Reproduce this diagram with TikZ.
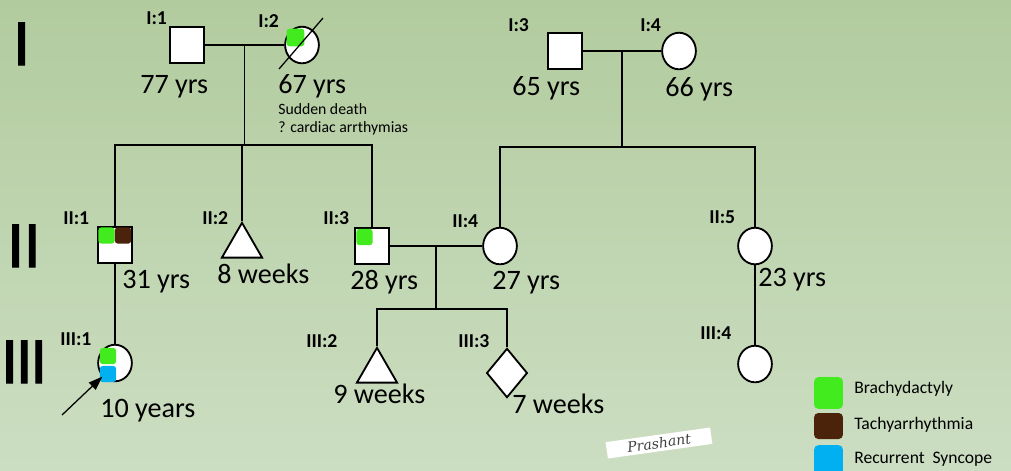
\documentclass[tikz,border=0pt]{standalone}
\usepackage{fontspec}
\setmainfont{Carlito}
\newfontfamily\signfont{DejaVu Serif}
\newfontfamily\genfont[FakeBold=1.5]{Carlito}
\usetikzlibrary{positioning,calc}
\usetikzlibrary{shapes.geometric,arrows.meta}
\definecolor{brachy}{RGB}{66,235,30}
\definecolor{tachy}{RGB}{75,35,10}
\definecolor{syncope}{RGB}{0,176,240}
\definecolor{bgtop}{RGB}{178,203,158}
\definecolor{bgmid}{RGB}{218,231,209}
\definecolor{bgbot}{RGB}{204,222,194}

\tikzset{
  male/.style={draw, line width=1.3pt, fill=white, minimum width=24pt, minimum height=26pt, inner sep=0pt},
  female/.style={male, ellipse},
  unknown/.style={draw, line width=1.3pt, fill=white, regular polygon, regular polygon sides=3, minimum size=33pt, inner sep=0pt},
  sexless/.style={draw, line width=1.3pt, fill=white, diamond, minimum width=29pt, minimum height=35pt, inner sep=0pt},
  trait/.style={rounded corners=2pt, minimum size=11.5pt, inner sep=0pt},
  key/.style={rounded corners=3pt, minimum width=20.5pt, inner sep=0pt},
  pid/.style={font=\fontsize{14}{16}\selectfont\bfseries, anchor=base west, inner sep=0pt},
  age/.style={font=\fontsize{20}{24}\selectfont, anchor=base west, inner sep=0pt},
  note/.style={font=\fontsize{11.2}{13}\selectfont, anchor=base west, inner sep=0pt},
  keytext/.style={font=\fontsize{12.5}{14}\selectfont, anchor=base west, inner sep=0pt},
  gen/.style={font=\genfont\fontsize{47}{50}\selectfont, anchor=base west, inner sep=0pt},
  line/.style={line width=0.9pt},
}

\begin{document}
\begin{tikzpicture}[x=0.025cm,y=-0.025cm]
  \fill[top color=bgtop, middle color=bgmid, bottom color=bgbot] (0,0) rectangle (1011,470);
  \useasboundingbox (0,0) rectangle (1011,470);

  % generations
  \node[gen] (g1) at (13,65) {I};
  \node[gen] (g2) at (7,267) {II};
  \node[gen] (g3) at (1,383) {I\kern-1.5pt I\kern-1.5pt I};

  % generation I
  \node[male] (i1) at (187,45) {};
  \node[female] (i2) at (302,45) {};
  \node[male] (i3) at (565,51) {};
  \node[female] (i4) at (679,51) {};

  % generation II
  \node[male] (ii1) at (115,245) {};
  \node[unknown] (ii2) at (242,246) {};
  \node[male] (ii3) at (372,246) {};
  \node[female] (ii4) at (500,246) {};
  \node[female] (ii5) at (755,246) {};

  % generation III
  \node[female] (iii1) at (115,363) {};
  \node[unknown] (iii2) at (377,371) {};
  \node[sexless] (iii3) at (507,373) {};
  \node[female] (iii4) at (755,364) {};

  % matings and sibships
  \draw[line] (i1.east) -- (i2.west);
  \coordinate (c1) at ($(i1.east)!0.5!(i2.west)$);
  \coordinate (s1) at ($(c1)+(0,100)$);
  \draw[line] (c1) -- (s1);
  \draw[line] (ii1.north) |- (s1) -| (ii3.north);
  \draw[line] (ii2.corner 1) -- (ii2.corner 1 |- s1);

  \draw[line] (i3.east) -- (i4.west);
  \coordinate (c2) at ($(i3.east)!0.5!(i4.west)$);
  \coordinate (s2) at ($(c2)+(0,96)$);
  \draw[line] (c2) -- (s2);
  \draw[line] (ii4.north) |- (s2) -| (ii5.north);

  \draw[line] (ii3.east) -- (ii4.west);
  \coordinate (c3) at ($(ii3.east)!0.5!(ii4.west)$);
  \coordinate (s3) at ($(c3)+(0,63)$);
  \draw[line] (c3) -- (s3);
  \draw[line] (iii2.corner 1) |- (s3) -| (iii3.north);

  \draw[line] (ii1.south) -- (iii1.north);
  \draw[line] (ii5.south) -- (iii4.north);

  % traits
  \node[trait, fill=brachy, minimum size=12.5pt] (t1) at (295.5,37.5) {};
  \node[trait, fill=brachy] (t2) at (106.5,235.5) {};
  \node[trait, fill=tachy] (t3) at (123,235.5) {};
  \node[trait, fill=brachy] (t4) at (364.5,237) {};
  \node[trait, fill=brachy] (t5) at (108,356) {};
  \node[trait, fill=syncope] (t6) at (108,374) {};

  % deceased
  \draw[line] (279,69) -- (323,18);

  % proband
  \coordinate (pb) at (62,415);
  \draw[line, -{Triangle[length=10pt,width=7pt]}] (pb) -- (iii1.south west);

  % ids
  \node[pid] (l1) at (146,24) {I:1};
  \node[pid] (l2) at (258,27) {I:2};
  \node[pid] (l3) at (508,31) {I:3};
  \node[pid] (l4) at (640,31) {I:4};
  \node[pid] (l5) at (63,224) {II:1};
  \node[pid] (l6) at (202,224) {II:2};
  \node[pid] (l7) at (323,224) {II:3};
  \node[pid] (l8) at (452,227) {II:4};
  \node[pid] (l9) at (709,223) {II:5};
  \node[pid] (l10) at (60,345) {III:1};
  \node[pid] (l11) at (306,347) {III:2};
  \node[pid] (l12) at (458,347) {III:3};
  \node[pid] (l13) at (700,339) {III:4};

  % ages
  \node[age] (a1) at (140,93) {77 yrs};
  \node[age] (a2) at (278,93) {67 yrs};
  \node[age] (a3) at (512,95) {65 yrs};
  \node[age] (a4) at (665,96) {66 yrs};
  \node[age] (a5) at (122,288) {31 yrs};
  \node[age] (a6) at (217,283) {8 weeks};
  \node[age] (a7) at (350,289) {28 yrs};
  \node[age] (a8) at (492,289) {27 yrs};
  \node[age] (a9) at (758,286) {23 yrs};
  \node[age] (a10) at (100,417) {10 years};
  \node[age] (a11) at (333,403) {9 weeks};
  \node[age] (a12) at (512,413) {7 weeks};

  \node[note] (n1) at (278,114) {Sudden death};
  \node[note] (n2) at (278,132) {? cardiac arrthymias};

  % legend
  \node[key, fill=brachy, minimum height=22.5pt] (k1) at (828.5,393) {};
  \node[key, fill=tachy, minimum height=18.5pt] (k2) at (828.5,426) {};
  \node[key, fill=syncope, minimum height=21pt] (k3) at (828.5,460) {};
  \node[keytext] (kt1) at (854,393) {Brachydactyly};
  \node[keytext] (kt2) at (854,429) {Tachyarrhythmia};
  \node[keytext] (kt3) at (854,463) {Recurrent\ \ Syncope};

  \node[fill=white, rotate=8, inner sep=2pt, minimum width=75pt,
    font=\signfont\itshape\fontsize{10}{11}\selectfont, text=black!75] (sig) at (659,443) {Prashant};
\end{tikzpicture}
\end{document}
